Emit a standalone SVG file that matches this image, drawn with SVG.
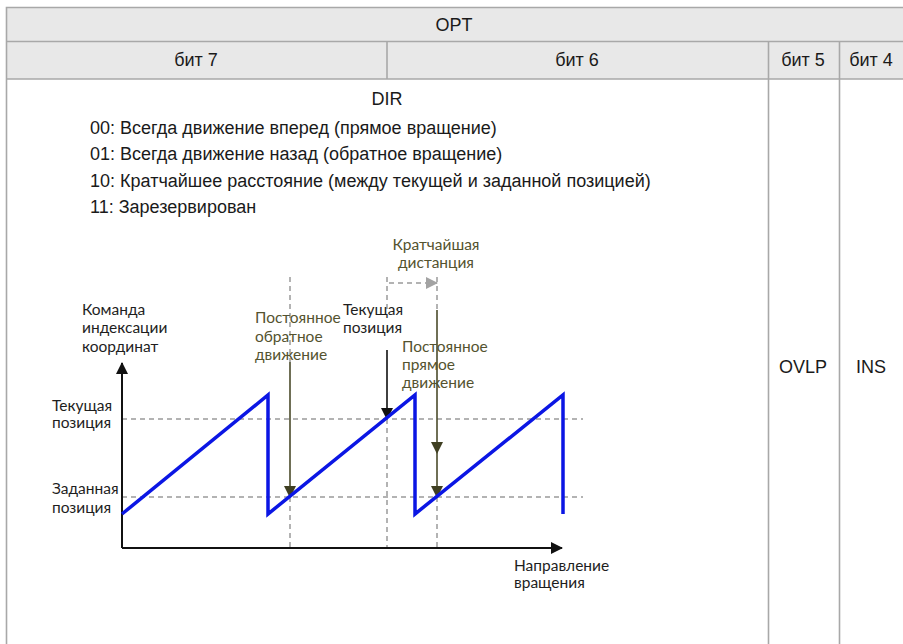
<svg xmlns="http://www.w3.org/2000/svg" width="903" height="644" viewBox="0 0 903 644">
  <style>
    .cell { font-family: "Liberation Sans", Arial, sans-serif; font-size: 18px; fill: #1a1a1a; }
    .body { font-family: "Liberation Sans", Arial, sans-serif; font-size: 18px; fill: #1a1a1a; }
    .lbl { font-family: Lato, "Noto Sans", sans-serif; font-size: 15.5px; fill: #1e1e1e; }
    .olv { font-family: Lato, "Noto Sans", sans-serif; font-size: 15.5px; fill: #54532f; }
    .grid { stroke: #a8a8a8; stroke-width: 1.6; fill: none; }
    .dash { stroke: #9a9a9a; stroke-width: 1.5; stroke-dasharray: 5 4; fill: none; }
    .saw { stroke: #0b16e4; stroke-width: 3.5; fill: none; stroke-linejoin: miter; }
    .axis { stroke: #111; stroke-width: 2; fill: none; }
    .olvline { stroke: #4b4b2b; stroke-width: 1.6; fill: none; }
  </style>
  <defs>
    <marker id="headBlack" markerWidth="12" markerHeight="12" refX="11" refY="6" orient="auto" markerUnits="userSpaceOnUse">
      <path d="M0,0 L12,6 L0,12 Z" fill="#111"/>
    </marker>
    <marker id="headOlive" markerWidth="12" markerHeight="12" refX="11" refY="6" orient="auto" markerUnits="userSpaceOnUse">
      <path d="M0,0 L12,6 L0,12 Z" fill="#3f3f22"/>
    </marker>
    <marker id="headGray" markerWidth="12" markerHeight="12" refX="11" refY="6" orient="auto" markerUnits="userSpaceOnUse">
      <path d="M0,0 L12,6 L0,12 Z" fill="#a3a3a3"/>
    </marker>
  </defs>

  <rect width="903" height="644" fill="#ffffff"/>

  <!-- table -->
  <g id="table">
    <rect x="6.5" y="7.5" width="900" height="71.5" fill="#e8e8e8"/>
    <path class="grid" d="M6.5,650 V7.5 H906 M6.5,41.5 H906 M6.5,79 H906 M387,41.5 V79 M768.5,41.5 V650 M839.5,41.5 V650"/>
    <text class="cell" x="454" y="31" text-anchor="middle">OPT</text>
    <text class="cell" x="196" y="66" text-anchor="middle">бит 7</text>
    <text class="cell" x="577" y="66" text-anchor="middle">бит 6</text>
    <text class="cell" x="803" y="66" text-anchor="middle">бит 5</text>
    <text class="cell" x="871" y="66" text-anchor="middle">бит 4</text>
    <text class="cell" x="803" y="373" text-anchor="middle">OVLP</text>
    <text class="cell" x="871" y="373" text-anchor="middle">INS</text>
  </g>

  <!-- DIR description -->
  <g id="dir-text">
    <text class="body" x="387" y="105" text-anchor="middle">DIR</text>
    <text class="body" x="90" y="134">00: Всегда движение вперед (прямое вращение)</text>
    <text class="body" x="90" y="160">01: Всегда движение назад (обратное вращение)</text>
    <text class="body" x="90" y="187">10: Кратчайшее расстояние (между текущей и заданной позицией)</text>
    <text class="body" x="90" y="213">11: Зарезервирован</text>
  </g>

  <!-- chart -->
  <g id="chart-guides">
    <path class="dash" d="M122,419 H583 M122,497 H583"/>
    <path class="dash" d="M290,277 V362 M290,497 V548"/>
    <path class="dash" d="M387,277 V312 M387,419 V548"/>
    <path class="dash" d="M437,277 V310 M437,497 V548"/>
    <path class="dash" d="M389,283 H437" marker-end="url(#headGray)"/>
  </g>

  <g id="connectors">
    <path class="axis" d="M122,548 V363" marker-end="url(#headBlack)"/>
    <path class="axis" d="M122,548 H562" marker-end="url(#headBlack)"/>
    <path class="olvline" d="M290,362 V497" marker-end="url(#headOlive)"/>
    <path class="axis" style="stroke-width:1.6" d="M387,350 V419" marker-end="url(#headBlack)"/>
    <path class="olvline" d="M437,310 V453" marker-end="url(#headOlive)"/>
    <path class="olvline" d="M437,453 V497" marker-end="url(#headOlive)"/>
  </g>

  <g id="sawtooth">
    <path class="saw" d="M122,514 L268,395 V514 L415,395 V514 L563,395 V514"/>
  </g>

  <g id="labels">
    <text class="lbl" x="82" y="315">Команда</text>
    <text class="lbl" x="82" y="333">индексации</text>
    <text class="lbl" x="82" y="352">координат</text>
    <text class="lbl" x="52" y="411">Текущая</text>
    <text class="lbl" x="52" y="428">позиция</text>
    <text class="lbl" x="52" y="494">Заданная</text>
    <text class="lbl" x="52" y="513">позиция</text>
    <text class="lbl" x="514" y="571">Направление</text>
    <text class="lbl" x="514" y="588">вращения</text>
    <text class="lbl" x="343" y="315">Текущая</text>
    <text class="lbl" x="343" y="333">позиция</text>
    <text class="olv" x="436" y="250" text-anchor="middle">Кратчайшая</text>
    <text class="olv" x="436" y="268" text-anchor="middle">дистанция</text>
    <text class="olv" x="255" y="323">Постоянное</text>
    <text class="olv" x="255" y="342">обратное</text>
    <text class="olv" x="255" y="360">движение</text>
    <text class="olv" x="402" y="352">Постоянное</text>
    <text class="olv" x="402" y="370">прямое</text>
    <text class="olv" x="402" y="388">движение</text>
  </g>
</svg>
